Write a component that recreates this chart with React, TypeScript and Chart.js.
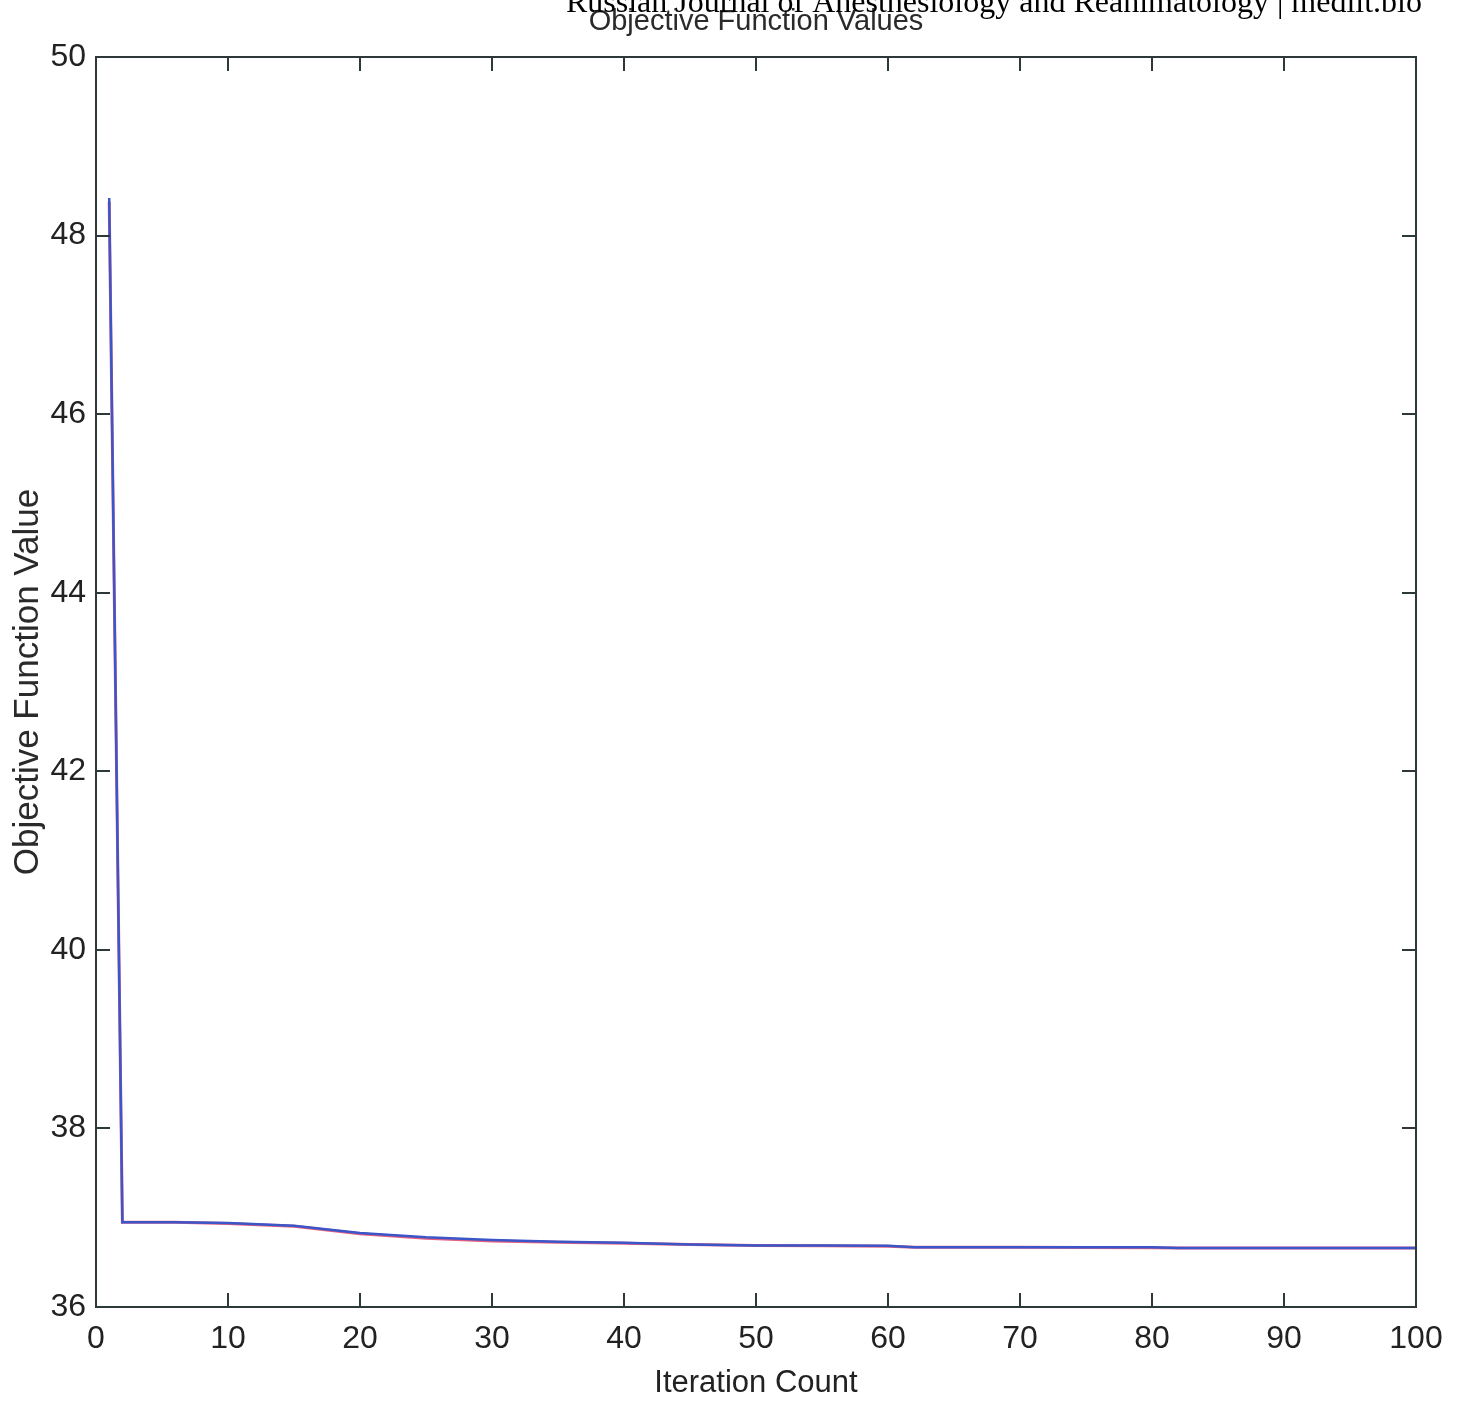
import React, { useEffect, useRef } from "react";
import { Chart, registerables } from "chart.js";

Chart.register(...registerables);

const iterations = [1, 2, 6, 10, 15, 20, 25, 30, 35, 40, 45, 50, 55, 60, 62, 70, 80, 82, 90, 100];
const blueValues = [48.42, 36.95, 36.95, 36.94, 36.91, 36.83, 36.78, 36.75, 36.73, 36.72, 36.7, 36.69, 36.69, 36.685, 36.67, 36.67, 36.67, 36.66, 36.66, 36.66];
const redValues = [48.38, 36.95, 36.95, 36.935, 36.905, 36.82, 36.77, 36.74, 36.725, 36.715, 36.7, 36.69, 36.685, 36.68, 36.67, 36.67, 36.665, 36.66, 36.66, 36.66];
const xTickValues = [0, 10, 20, 30, 40, 50, 60, 70, 80, 90, 100];
const yTickValues = [36, 38, 40, 42, 44, 46, 48, 50];

const titleText = "Objective Function Values";
const watermarkText = "Russian Journal of Anesthesiology and Reanimatology | medlit.bio";
const xTitle = "Iteration Count";
const yTitle = "Objective Function Value";

const SANS = "'Liberation Sans', Arial, Helvetica, sans-serif";

const framePlugin = {
  id: "matlabFrame",
  afterDraw(chart: any) {
    const { ctx, chartArea: a, scales } = chart;
    const xs = scales.x;
    const ys = scales.y;
    ctx.save();
    ctx.strokeStyle = "#2e3838";
    ctx.lineWidth = 2;
    ctx.strokeRect(a.left, a.top, a.right - a.left, a.bottom - a.top);
    ctx.beginPath();
    xTickValues.forEach((v) => {
      const px = Math.round(xs.getPixelForValue(v));
      ctx.moveTo(px, a.bottom);
      ctx.lineTo(px, a.bottom - 14);
      ctx.moveTo(px, a.top);
      ctx.lineTo(px, a.top + 14);
    });
    yTickValues.forEach((v) => {
      const py = Math.round(ys.getPixelForValue(v));
      ctx.moveTo(a.left, py);
      ctx.lineTo(a.left + 14, py);
      ctx.moveTo(a.right, py);
      ctx.lineTo(a.right - 14, py);
    });
    ctx.stroke();

    // title
    ctx.fillStyle = "#2a2a2a";
    ctx.font = `29px ${SANS}`;
    ctx.textAlign = "center";
    ctx.textBaseline = "alphabetic";
    ctx.fillText(titleText, (a.left + a.right) / 2, 30);

    // watermark
    ctx.fillStyle = "#000";
    ctx.font = "32px 'Liberation Serif', 'Times New Roman', serif";
    ctx.textAlign = "right";
    ctx.fillText(watermarkText, 1422, 12);
    ctx.restore();
  },
};

export default function App() {
  const ref = useRef<HTMLCanvasElement | null>(null);
  useEffect(() => {
    if (!ref.current) return;
    const chart = new Chart(ref.current, {
      type: "line",
      data: {
        datasets: [
          {
            label: "red",
            data: iterations.map((x, i) => ({ x, y: redValues[i] })),
            borderColor: "#e8607e",
            borderWidth: 3,
            pointRadius: 0,
            tension: 0,
            order: 2,
          },
          {
            label: "blue",
            data: iterations.map((x, i) => ({ x, y: blueValues[i] })),
            borderColor: "#3a56c8",
            borderWidth: 2.5,
            pointRadius: 0,
            tension: 0,
            order: 1,
          },
        ],
      },
      options: {
        animation: false,
        responsive: false,
        layout: { padding: { left: 0, right: 44, top: 57, bottom: 0 } },
        plugins: { legend: { display: false }, tooltip: { enabled: false }, title: { display: false } },
        scales: {
          x: {
            type: "linear",
            min: 0,
            max: 100,
            grid: { display: false, drawTicks: false },
            border: { display: false },
            afterBuildTicks: (s: any) => {
              s.ticks = xTickValues.map((v) => ({ value: v }));
            },
            afterFit: (s: any) => {
              s.height = 96;
            },
            ticks: {
              color: "#222",
              padding: 13,
              maxRotation: 0,
              font: { family: SANS, size: 32 },
            },
            title: {
              display: true,
              text: xTitle,
              color: "#222",
              font: { family: SANS, size: 31 },
              padding: { top: 0, bottom: 1 },
            },
          },
          y: {
            type: "linear",
            min: 36,
            max: 50,
            grid: { display: false, drawTicks: false },
            border: { display: false },
            afterBuildTicks: (s: any) => {
              s.ticks = yTickValues.map((v) => ({ value: v }));
            },
            afterFit: (s: any) => {
              s.width = 96;
            },
            ticks: {
              color: "#222",
              padding: 10,
              font: { family: SANS, size: 32 },
            },
            title: {
              display: true,
              text: yTitle,
              color: "#2a2a2a",
              font: { family: SANS, size: 35 },
              padding: { top: 7, bottom: 0 },
            },
          },
        },
      },
      plugins: [framePlugin],
    });
    return () => chart.destroy();
  }, []);
  return (
    <div style={{ position: "absolute", left: 0, top: 0, width: 1460, height: 1403, background: "#fff" }}>
      <canvas ref={ref} width={1460} height={1403} />
    </div>
  );
}
